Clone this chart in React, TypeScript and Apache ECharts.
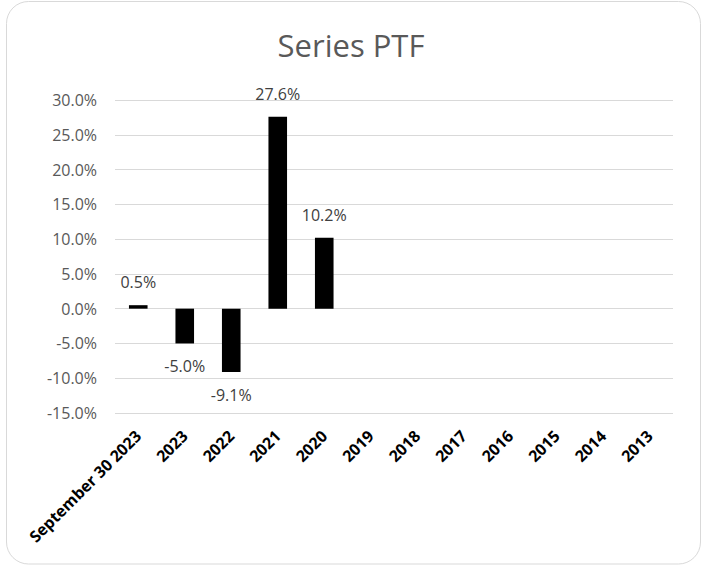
import React, { useEffect, useRef } from "react";
import * as echarts from "echarts";

// Annual returns (%) per period; later years have no value yet
const categories = [
  "September 30 2023",
  "2023",
  "2022",
  "2021",
  "2020",
  "2019",
  "2018",
  "2017",
  "2016",
  "2015",
  "2014",
  "2013",
];
const returnsPct: (number | null)[] = [0.5, -5.0, -9.1, 27.6, 10.2, null, null, null, null, null, null, null];
const yMin = -15;
const yMax = 30;
const yStep = 5;
const chartTitle = "Series PTF";

const FONT = "'Open Sans', 'Noto Sans', sans-serif";

export default function App() {
  const ref = useRef<HTMLDivElement>(null);

  useEffect(() => {
    if (!ref.current) return;
    const chart = echarts.init(ref.current, null, { renderer: "svg" });

    const barData = returnsPct.map((v) =>
      v === null
        ? null
        : {
            value: v,
            label: { position: v >= 0 ? "top" : "bottom" },
          }
    );

    chart.setOption({
      animation: false,
      backgroundColor: "#ffffff",
      title: {
        text: chartTitle,
        left: "center",
        top: 24,
        textStyle: {
          fontFamily: FONT,
          fontSize: 31,
          fontWeight: "normal",
          color: "#595959",
        },
      },
      graphic: [
        {
          type: "rect",
          shape: { x: 6.5, y: 1.5, width: 694, height: 562.5, r: 22 },
          style: { fill: "none", stroke: "#d9d9d9", lineWidth: 1 },
          silent: true,
          z: -1,
        },
      ],
      grid: {
        left: 115,
        right: 29,
        top: 100,
        bottom: 153,
        outerBoundsMode: "none",
        containLabel: false,
      },
      xAxis: {
        type: "category",
        data: categories,
        position: "bottom",
        axisLine: { show: false, onZero: false },
        axisTick: { show: false },
        axisLabel: {
          rotate: 45,
          interval: 0,
          margin: 20,
          fontFamily: FONT,
          fontSize: 16,
          fontWeight: "bold",
          color: "#000000",
        },
        splitLine: { show: false },
      },
      yAxis: {
        type: "value",
        min: yMin,
        max: yMax,
        interval: yStep,
        axisLine: { show: false },
        axisTick: { show: false },
        axisLabel: {
          margin: 18,
          fontFamily: FONT,
          fontSize: 16,
          color: "#595959",
          formatter: (v: number) => `${v.toFixed(1)}%`,
        },
        splitLine: { lineStyle: { color: "#d9d9d9", width: 1 } },
      },
      series: [
        {
          type: "bar",
          data: barData,
          barWidth: "40%",
          itemStyle: { color: "#000000" },
          label: {
            show: true,
            distance: 15,
            fontFamily: FONT,
            fontSize: 16,
            color: "#404040",
            formatter: (p: any) => `${Number(p.value).toFixed(1)}%`,
          },
        },
      ],
    });

    return () => chart.dispose();
  }, []);

  return (
    <div
      ref={ref}
      style={{ position: "fixed", left: 0, top: 0, width: 702, height: 566 }}
    />
  );
}
